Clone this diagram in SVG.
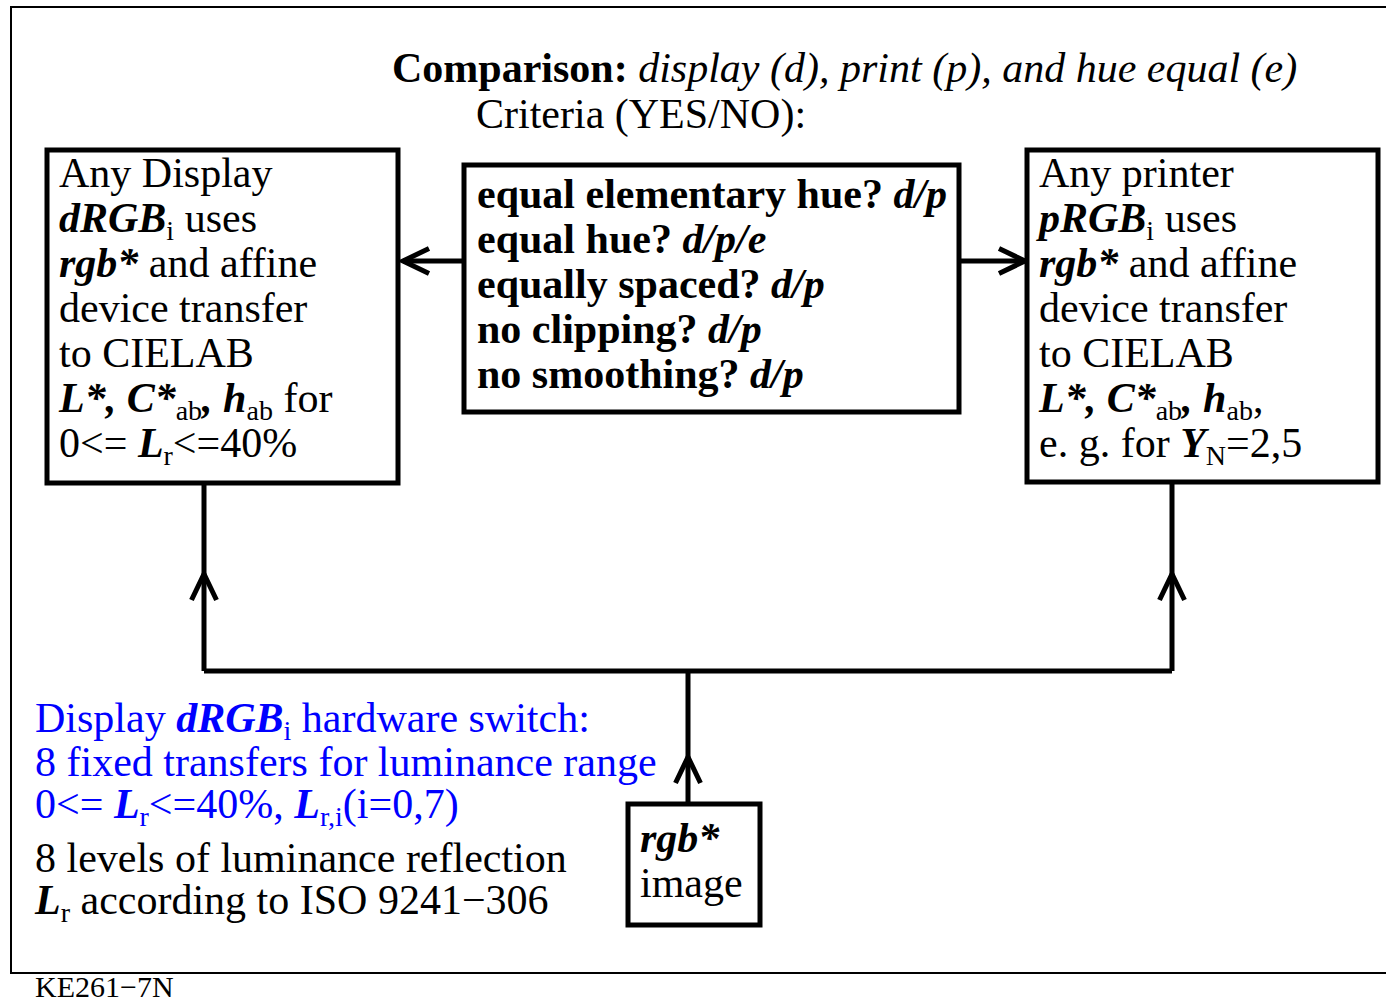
<svg xmlns="http://www.w3.org/2000/svg" width="1386" height="1001" viewBox="0 0 1386 1001">
  <style>
    .t { font-family: "Liberation Serif", "Times New Roman", serif; font-size: 42px; fill: #000; }
    .blue { fill: #0000ff; }
    .b { font-weight: bold; }
    .i { font-style: italic; }
    .bi { font-weight: bold; font-style: italic; }
    .sub { font-size: 28px; }
    .small { font-size: 30px; }
    .box { fill: #fff; stroke: #000; stroke-width: 5; }
    .wire { fill: none; stroke: #000; stroke-width: 5; }
    .frame { fill: none; stroke: #000; stroke-width: 2; }
  </style>
  <defs>
    <marker id="chev" viewBox="-32 -16 36 32" markerWidth="36" markerHeight="32" refX="0" refY="0" markerUnits="userSpaceOnUse" orient="auto" overflow="visible">
      <path d="M-26,-12.5 L0,0 L-26,12.5" fill="none" stroke="#000" stroke-width="5"/>
    </marker>
  </defs>

  <rect width="1386" height="1001" fill="#fff"/>

  <!-- page frame (open on the right) -->
  <path class="frame" d="M1386,7 L11,7 L11,973 L1386,973"/>

  <!-- heading -->
  <text class="t" x="392" y="82"><tspan class="b">Comparison:</tspan><tspan class="i"> display (d), print (p), and hue equal (e)</tspan></text>
  <text class="t" x="476" y="128">Criteria (YES/NO):</text>

  <!-- connectors -->
  <g id="connectors">
    <path class="wire" d="M204,671 L1172,671"/>
    <path class="wire" d="M688,804 L688,757 L688,671" marker-mid="url(#chev)"/>
    <path class="wire" d="M204,671 L204,574 L204,483" marker-mid="url(#chev)"/>
    <path class="wire" d="M1172,671 L1172,574 L1172,482" marker-mid="url(#chev)"/>
    <path class="wire" d="M464,261 L403,261" marker-end="url(#chev)"/>
    <path class="wire" d="M959,261 L1025,261" marker-end="url(#chev)"/>
  </g>

  <!-- display node -->
  <g id="display">
    <rect class="box" x="47" y="150" width="351" height="333"/>
    <text class="t" x="59" y="187">Any Display</text>
    <text class="t" x="59" y="232"><tspan class="bi">dRGB</tspan><tspan class="sub" dy="8">i</tspan><tspan dy="-8"> uses</tspan></text>
    <text class="t" x="59" y="277"><tspan class="bi">rgb*</tspan> and affine</text>
    <text class="t" x="59" y="322">device transfer</text>
    <text class="t" x="59" y="367">to CIELAB</text>
    <text class="t" x="59" y="412"><tspan class="bi">L*, C*</tspan><tspan class="sub" dy="8">ab</tspan><tspan class="bi" dy="-8">, h</tspan><tspan class="sub" dy="8">ab</tspan><tspan dy="-8"> for</tspan></text>
    <text class="t" x="59" y="457">0&lt;= <tspan class="bi">L</tspan><tspan class="sub" dy="8">r</tspan><tspan dy="-8">&lt;=40%</tspan></text>
  </g>

  <!-- criteria node -->
  <g id="criteria">
    <rect class="box" x="464" y="165" width="495" height="247"/>
    <text class="t b" x="477" y="208">equal elementary hue? <tspan class="bi">d/p</tspan></text>
    <text class="t b" x="477" y="253">equal hue? <tspan class="bi">d/p/e</tspan></text>
    <text class="t b" x="477" y="298">equally spaced? <tspan class="bi">d/p</tspan></text>
    <text class="t b" x="477" y="343">no clipping? <tspan class="bi">d/p</tspan></text>
    <text class="t b" x="477" y="388">no smoothing? <tspan class="bi">d/p</tspan></text>
  </g>

  <!-- printer node -->
  <g id="printer">
    <rect class="box" x="1027" y="150" width="351" height="332"/>
    <text class="t" x="1039" y="187">Any printer</text>
    <text class="t" x="1039" y="232"><tspan class="bi">pRGB</tspan><tspan class="sub" dy="8">i</tspan><tspan dy="-8"> uses</tspan></text>
    <text class="t" x="1039" y="277"><tspan class="bi">rgb*</tspan> and affine</text>
    <text class="t" x="1039" y="322">device transfer</text>
    <text class="t" x="1039" y="367">to CIELAB</text>
    <text class="t" x="1039" y="412"><tspan class="bi">L*, C*</tspan><tspan class="sub" dy="8">ab</tspan><tspan class="bi" dy="-8">, h</tspan><tspan class="sub" dy="8">ab</tspan><tspan dy="-8">,</tspan></text>
    <text class="t" x="1039" y="457">e. g. for <tspan class="bi">Y</tspan><tspan class="sub" dy="8">N</tspan><tspan dy="-8">=2,5</tspan></text>
  </g>

  <!-- image node -->
  <g id="image">
    <rect class="box" x="628" y="804" width="132" height="121"/>
    <text class="t bi" x="640" y="852">rgb*</text>
    <text class="t" x="640" y="897">image</text>
  </g>

  <!-- notes -->
  <g id="notes">
    <text class="t blue" x="35" y="732">Display <tspan class="bi">dRGB</tspan><tspan class="sub" dy="8">i</tspan><tspan dy="-8"> hardware switch:</tspan></text>
    <text class="t blue" x="35" y="776">8 fixed transfers for luminance range</text>
    <text class="t blue" x="35" y="818">0&lt;= <tspan class="bi">L</tspan><tspan class="sub" dy="8">r</tspan><tspan dy="-8">&lt;=40%, </tspan><tspan class="bi">L</tspan><tspan class="sub" dy="8">r,i</tspan><tspan dy="-8">(i=0,7)</tspan></text>
    <text class="t" x="35" y="872">8 levels of luminance reflection</text>
    <text class="t" x="35" y="914"><tspan class="bi">L</tspan><tspan class="sub" dy="8">r</tspan><tspan dy="-8"> according to ISO 9241−306</tspan></text>
  </g>

  <text class="t small" x="35" y="997">KE261−7N</text>
</svg>
